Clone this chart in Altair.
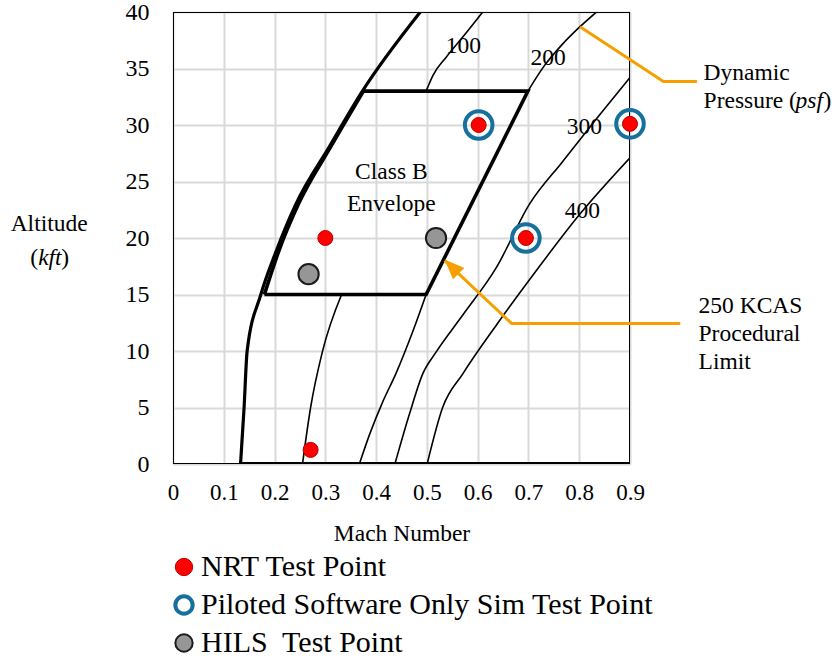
import altair as alt
import pandas as pd

FONT = "Liberation Serif"
ORANGE = "#F5A000"

# ---------------- axes ----------------
mach_ticks = [0, 0.1, 0.2, 0.3, 0.4, 0.5, 0.6, 0.7, 0.8, 0.9]
alt_ticks = [0, 5, 10, 15, 20, 25, 30, 35, 40]

# ---------------- minimum-speed boundary (thick) ----------------
bound_mach = [0.133, 0.140, 0.146, 0.173, 0.202, 0.242, 0.308, 0.373, 0.487]
bound_alt = [0, 5, 10, 15, 18.7, 23.0, 28.1, 33.0, 40]

# sea-level edge of the flight envelope
floor_mach = [0.133, 0.9]
floor_alt = [0, 0]

# ---------------- Class B envelope ----------------
env_left_mach = [0.18, 0.208, 0.247, 0.311, 0.375]
env_left_alt = [15, 18.8, 23.0, 28.1, 33]
env_rest_mach = [0.375, 0.699, 0.4985, 0.18]
env_rest_alt = [33, 33, 15, 15]

# ---------------- constant dynamic pressure lines (psf) ----------------
q100_lo_mach = [0.255, 0.271, 0.294, 0.332]
q100_lo_alt = [0, 5, 9.9, 15]
q100_hi_mach = [0.4985, 0.512, 0.538, 0.571, 0.61]
q100_hi_alt = [33, 34.4, 36.0, 37.8, 40]
q200_lo_mach = [0.367, 0.387, 0.413, 0.439, 0.472, 0.4985]
q200_lo_alt = [0, 2.6, 5.5, 8.0, 11.7, 15]
q200_hi_mach = [0.699, 0.729, 0.768, 0.8015, 0.834]
q200_hi_alt = [33, 35.1, 37.2, 38.7, 40]
q300_mach = [0.437, 0.4655, 0.492, 0.518, 0.571, 0.637, 0.702, 0.768, 0.834, 0.9]
q300_alt = [0, 4.4, 8.0, 9.9, 13.2, 17.4, 23.0, 26.8, 30.55, 34.2]
q400_mach = [0.5005, 0.531, 0.571, 0.637, 0.702, 0.801, 0.9]
q400_alt = [0, 5.0, 8.0, 12.3, 16.3, 22.1, 27.1]

q_labels = ["100", "200", "300", "400"]
q_label_mach = [0.572, 0.739, 0.810, 0.806]
q_label_alt = [37.0, 35.9, 29.8, 22.4]

# ---------------- test points ----------------
kinds = ["NRT Test Point", "Piloted Software Only Sim Test Point", "HILS\u00a0 Test Point"]
pt_kind = [kinds[1], kinds[1], kinds[1],
           kinds[0], kinds[0], kinds[0], kinds[0], kinds[0],
           kinds[2], kinds[2]]
pt_mach = [0.602, 0.9, 0.695,
           0.602, 0.9, 0.695, 0.30, 0.271,
           0.518, 0.267]
pt_alt = [30.0, 30.1, 20.0,
          30.0, 30.1, 20.0, 20.0, 1.25,
          20.0, 16.8]

# ---------------- annotations ----------------
env_text = ["Class B", "Envelope"]
env_text_mach = [0.43, 0.43]
env_text_alt = [25.8, 23.0]

q_lead_mach = [0.8015, 0.9658, 1.0318]
q_lead_alt = [38.7, 33.86, 33.86]
q_note_mach = 1.0449
q_note_alt = [34.6, 32.1]

kcas_lead_mach = [0.535, 0.667, 0.999]
kcas_lead_alt = [18.0, 12.43, 12.43]
kcas_head_mach = [0.5487]
kcas_head_alt = [17.47]
kcas_text = ["250 KCAS", "Procedural", "Limit"]
kcas_text_mach = [1.035, 1.035, 1.035]
kcas_text_alt = [13.97, 11.5, 9.07]

ytitle_mach = -0.2439
ytitle_alt = [21.2, 18.2]


def path(mach, altv, seg="s"):
    return pd.DataFrame({"mach": mach, "alt": altv, "seg": seg, "i": range(len(mach))})


x_axis = alt.Axis(values=mach_ticks, format=".1~f", title="Mach Number", grid=True,
                  gridColor="#d9d9d9", gridWidth=2, ticks=False, domain=False,
                  labelFont=FONT, labelFontSize=23, labelColor="black", labelPadding=17,
                  labelFlush=False, labelOverlap=False,
                  titleFont=FONT, titleFontSize=23.5, titleFontWeight="normal",
                  titleColor="black", titlePadding=17)
y_axis = alt.Axis(values=alt_ticks, title=None, grid=True, gridColor="#d9d9d9", gridWidth=2,
                  ticks=False, domain=False, labelFont=FONT, labelFontSize=24,
                  labelColor="black", labelPadding=24, labelFlush=False, labelOverlap=False)
X = alt.X("mach:Q", scale=alt.Scale(domain=[0, 0.9], nice=False, zero=False), axis=x_axis)
Y = alt.Y("alt:Q", scale=alt.Scale(domain=[0, 40], nice=False, zero=False), axis=y_axis)


def line(df, width, color="black", clip=True, smooth=False):
    kw = {"interpolate": "monotone"} if smooth else {}
    return alt.Chart(df).mark_line(color=color, strokeWidth=width, clip=clip, **kw).encode(
        x=X, y=Y, detail="seg:N", order="i:Q")


def text(df, size=23.5, align="center", style="normal", dx=0, baseline="middle"):
    return alt.Chart(df).mark_text(font=FONT, fontSize=size, align=align, baseline=baseline,
                                   fontStyle=style, dx=dx, color="black", clip=False).encode(
        x=X, y=Y, text="label:N")


# plot frame
frame = line(path([0, 0.9, 0.9], [40, 40, 0]), 2)
left_bottom = line(path([0, 0, 0.133], [40, 0, 0]), 2)

q_lines = pd.concat([
    path(q100_lo_mach, q100_lo_alt, "q100a"), path(q100_hi_mach, q100_hi_alt, "q100b"),
    path(q200_lo_mach, q200_lo_alt, "q200a"), path(q200_hi_mach, q200_hi_alt, "q200b"),
    path(q300_mach, q300_alt, "q300"), path(q400_mach, q400_alt, "q400"),
])

layers = [
    frame,
    left_bottom,
    line(q_lines, 1.6, smooth=True),
    line(path(bound_mach, bound_alt), 3.2, smooth=True),
    line(path(floor_mach, floor_alt), 4),
    line(path(env_left_mach, env_left_alt), 3.6, smooth=True),
    line(path(env_rest_mach, env_rest_alt), 3.6),
    text(pd.DataFrame({"mach": q_label_mach, "alt": q_label_alt, "label": q_labels})),
    text(pd.DataFrame({"mach": env_text_mach, "alt": env_text_alt, "label": env_text})),
]

# test points with legend
pts = pd.DataFrame({"mach": pt_mach, "alt": pt_alt, "kind": pt_kind})
size_map = {kinds[0]: 225, kinds[1]: 760, kinds[2]: 410}
pts["sz"] = pts["kind"].map(size_map)
legend = alt.Legend(title=None, orient="none", legendX=-4, legendY=540, padding=0,
                    labelFont=FONT, labelFontSize=30, labelColor="black", labelOffset=2,
                    rowPadding=6, symbolSize=300, symbolType="circle", labelLimit=700)
points = alt.Chart(pts).mark_point(filled=True, opacity=1, shape="circle", clip=False).encode(
    x=X, y=Y,
    fill=alt.Fill("kind:N", scale=alt.Scale(type="ordinal", domain=kinds,
                                             range=["#ff0000", "transparent", "#969696"]),
                  legend=legend),
    stroke=alt.Stroke("kind:N", scale=alt.Scale(type="ordinal", domain=kinds,
                                                 range=["#b40000", "#16709e", "#1a1a1a"]),
                      legend=legend),
    strokeWidth=alt.StrokeWidth("kind:N", scale=alt.Scale(type="ordinal", domain=kinds,
                                                          range=[1, 4, 2]),
                                legend=legend),
    size=alt.Size("sz:Q", scale=None, legend=None),
)
layers.append(points)

# dynamic pressure callout
layers.append(line(path(q_lead_mach, q_lead_alt), 3, ORANGE, clip=False))
layers.append(text(pd.DataFrame({"mach": [q_note_mach], "alt": [q_note_alt[0]], "label": ["Dynamic"]}),
                   align="left"))
layers.append(text(pd.DataFrame({"mach": [q_note_mach], "alt": [q_note_alt[1]], "label": ["Pressure ("]}),
                   align="left"))
layers.append(text(pd.DataFrame({"mach": [q_note_mach], "alt": [q_note_alt[1]], "label": ["psf"]}),
                   align="left", style="italic", dx=92))
layers.append(text(pd.DataFrame({"mach": [q_note_mach], "alt": [q_note_alt[1]], "label": [")"]}),
                   align="left", dx=120))

# 250 KCAS callout
layers.append(line(path(kcas_lead_mach, kcas_lead_alt), 3, ORANGE, clip=False))
layers.append(alt.Chart(pd.DataFrame({"mach": kcas_head_mach, "alt": kcas_head_alt})).mark_point(
    shape="M0,-1L-0.8,1L0.8,1Z", filled=True, opacity=1, color=ORANGE, size=400, angle=315,
    clip=False).encode(x=X, y=Y))
layers.append(text(pd.DataFrame({"mach": kcas_text_mach, "alt": kcas_text_alt, "label": kcas_text}),
                   align="left"))

# y-axis title
layers.append(text(pd.DataFrame({"mach": [ytitle_mach], "alt": [ytitle_alt[0]], "label": ["Altitude"]})))
layers.append(text(pd.DataFrame({"mach": [ytitle_mach], "alt": [ytitle_alt[1]], "label": ["("]}),
                   align="left", dx=-19))
layers.append(text(pd.DataFrame({"mach": [ytitle_mach], "alt": [ytitle_alt[1]], "label": ["kft"]}),
                   align="left", dx=-11, style="italic"))
layers.append(text(pd.DataFrame({"mach": [ytitle_mach], "alt": [ytitle_alt[1]], "label": [")"]}),
                   align="left", dx=12))

chart = alt.layer(*layers).properties(
    width=457, height=452,
    autosize=alt.AutoSizeParams(type="none"),
    padding={"left": 173, "top": 12, "right": 205, "bottom": 199},
).configure_view(stroke=None).configure(font=FONT)

chart.save("out.html", embed_options={"renderer": "svg", "actions": False})
